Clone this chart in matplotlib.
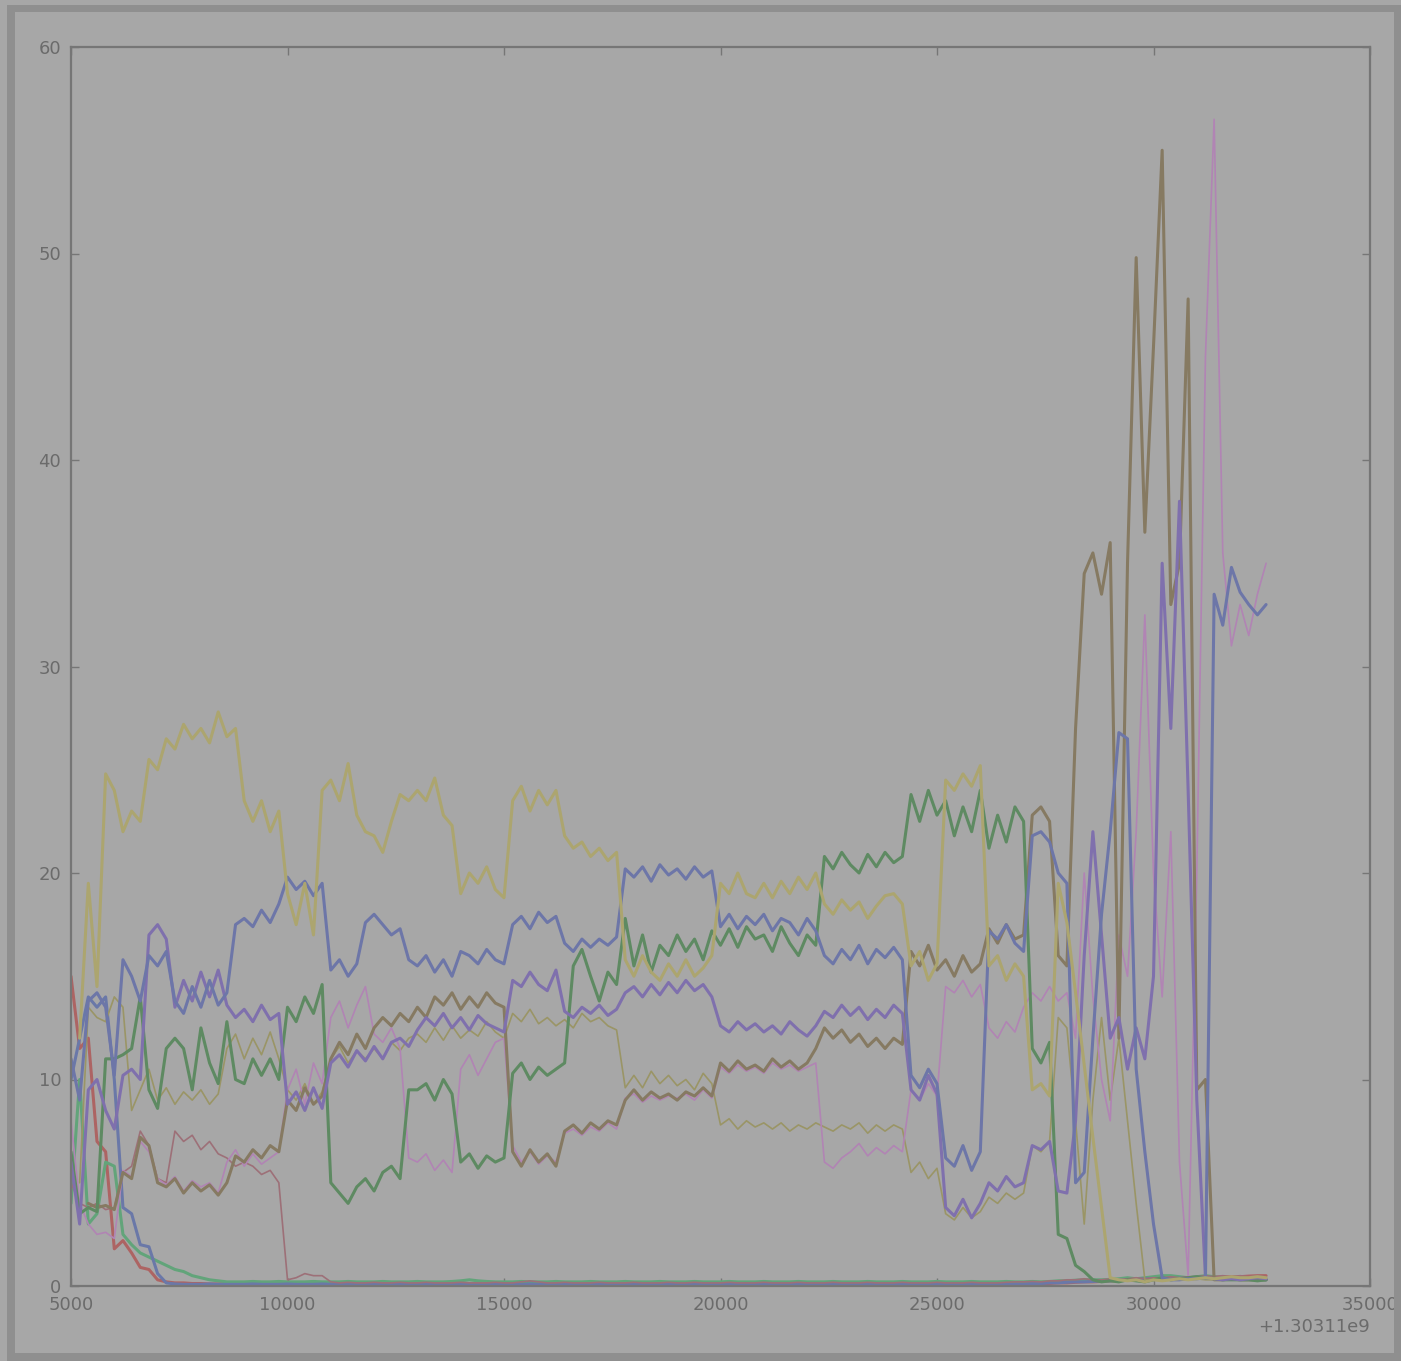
import numpy as np
import matplotlib
matplotlib.use('Agg')
import matplotlib.pyplot as plt
from matplotlib.ticker import ScalarFormatter, FixedLocator
from matplotlib.patches import Rectangle

nan = np.nan

# time axis: offset + seconds, samples every 200 s starting at 5000
T_OFFSET = 1.30311e9
T_START = 5000
T_STEP = 200

x_ticks = [5000, 10000, 15000, 20000, 25000, 30000, 35000]
y_ticks = [0, 10, 20, 30, 40, 50, 60]

yellow = [
    nan, 12.0, 19.5, 14.5, 24.8, 24.0, 22.0, 23.0, 22.5, 25.5,
    25.0, 26.5, 26.0, 27.2, 26.5, 27.0, 26.3, 27.8, 26.6, 27.0,
    23.5, 22.5, 23.5, 22.0, 23.0, 19.0, 17.5, 19.5, 17.0, 24.0,
    24.5, 23.5, 25.3, 22.8, 22.0, 21.8, 21.0, 22.5, 23.8, 23.5,
    24.0, 23.5, 24.6, 22.8, 22.3, 19.0, 20.0, 19.5, 20.3, 19.2,
    18.8, 23.5, 24.2, 23.0, 24.0, 23.3, 24.0, 21.8, 21.2, 21.5,
    20.8, 21.2, 20.6, 21.0, 15.8, 15.0, 16.0, 15.2, 14.8, 15.6,
    15.0, 15.8, 15.0, 15.4, 16.0, 19.5, 19.0, 20.0, 19.0, 18.8,
    19.5, 18.8, 19.6, 19.0, 19.8, 19.2, 20.0, 18.5, 18.0, 18.7,
    18.2, 18.6, 17.8, 18.4, 18.9, 19.0, 18.5, 15.5, 16.2, 14.8,
    15.6, 24.5, 24.0, 24.8, 24.2, 25.2, 15.5, 16.0, 14.8, 15.6,
    15.0, 9.5, 9.8, 9.2, 19.5, 17.6, 14.2, 10.7, 7.2, 3.8,
    0.4, 0.3, 0.25, 0.3, 0.2, 0.3, 0.25, 0.3, 0.35, 0.3,
    0.35, 0.4, 0.35, 0.4, 0.45, 0.4, 0.4, 0.45, 0.4,
]

blue = [
    11.0, 9.0, 13.8, 14.2, 13.5, 10.2, 15.8, 15.0, 13.8, 16.0,
    15.5, 16.2, 13.8, 13.2, 14.5, 13.5, 14.8, 13.6, 14.2, 17.5,
    17.8, 17.4, 18.2, 17.6, 18.5, 19.8, 19.2, 19.6, 18.9, 19.5,
    15.3, 15.8, 15.0, 15.6, 17.6, 18.0, 17.5, 17.0, 17.3, 15.8,
    15.5, 16.0, 15.2, 15.8, 15.0, 16.2, 16.0, 15.6, 16.3, 15.8,
    15.6, 17.5, 17.9, 17.3, 18.1, 17.6, 17.9, 16.6, 16.2, 16.8,
    16.4, 16.8, 16.5, 16.9, 20.2, 19.8, 20.3, 19.6, 20.4, 19.9,
    20.2, 19.7, 20.3, 19.8, 20.1, 17.4, 18.0, 17.3, 17.9, 17.5,
    18.0, 17.2, 17.8, 17.6, 17.0, 17.8, 17.2, 16.0, 15.6, 16.3,
    15.8, 16.5, 15.6, 16.3, 15.9, 16.4, 15.8, 10.2, 9.6, 10.5,
    9.8, 6.2, 5.8, 6.8, 5.6, 6.5, 17.2, 16.8, 17.5, 16.6,
    16.2, 21.8, 22.0, 21.5, 20.0, 19.5, 5.0, 5.5, 12.0, 18.0,
    22.0, 26.8, 26.5, 10.5, 6.5, 3.0, 0.4, 0.3, 0.3, 0.35,
    0.35, 0.4, 33.5, 32.0, 34.8, 33.6, 33.0, 32.5, 33.0,
]

purple = [
    6.0, 3.0, 9.5, 10.0, 8.5, 7.6, 10.2, 10.5, 10.0, 17.0,
    17.5, 16.8, 13.5, 14.8, 13.8, 15.2, 14.0, 15.3, 13.6, 13.0,
    13.4, 12.8, 13.6, 12.9, 13.2, 8.8, 9.4, 8.5, 9.6, 8.6,
    10.8, 11.2, 10.6, 11.4, 10.9, 11.6, 11.0, 11.8, 12.0, 11.6,
    12.4, 13.0, 12.6, 13.2, 12.5, 13.0, 12.4, 13.1, 12.7, 12.5,
    12.3, 14.8, 14.5, 15.2, 14.6, 14.3, 15.3, 13.3, 13.0, 13.5,
    13.2, 13.6, 13.1, 13.4, 14.2, 14.5, 14.0, 14.6, 14.1, 14.7,
    14.2, 14.8, 14.3, 14.6, 14.0, 12.6, 12.3, 12.8, 12.4, 12.7,
    12.3, 12.6, 12.2, 12.8, 12.4, 12.1, 12.6, 13.3, 13.0, 13.6,
    13.1, 13.5, 12.9, 13.4, 13.0, 13.6, 13.2, 9.5, 9.0, 10.2,
    9.3, 3.8, 3.4, 4.2, 3.3, 4.0, 5.0, 4.6, 5.3, 4.8,
    5.0, 6.8, 6.6, 7.0, 4.6, 4.5, 8.0, 16.0, 22.0, 17.0,
    12.0, 13.0, 10.5, 12.5, 11.0, 15.0, 35.0, 27.0, 38.0, 24.0,
    9.0, 0.4, 0.35, 0.3, 0.35, 0.3, 0.35, 0.4, 0.35,
]

green = [
    6.5, 3.5, 3.8, 3.6, 11.0, 11.0, 11.2, 11.5, 14.0, 9.5,
    8.6, 11.5, 12.0, 11.5, 9.5, 12.5, 10.8, 9.8, 12.8, 10.0,
    9.8, 11.0, 10.2, 11.0, 10.0, 13.5, 12.8, 14.0, 13.2, 14.6,
    5.0, 4.5, 4.0, 4.8, 5.2, 4.6, 5.5, 5.8, 5.2, 9.5,
    9.5, 9.8, 9.0, 10.0, 9.3, 6.0, 6.4, 5.7, 6.3, 6.0,
    6.2, 10.3, 10.8, 10.0, 10.6, 10.2, 10.5, 10.8, 15.5, 16.3,
    15.0, 13.8, 15.2, 14.6, 17.8, 15.5, 17.0, 15.2, 16.5, 16.0,
    17.0, 16.2, 16.8, 15.8, 17.2, 16.5, 17.3, 16.4, 17.4, 16.8,
    17.0, 16.2, 17.4, 16.6, 16.0, 17.0, 16.5, 20.8, 20.2, 21.0,
    20.4, 20.0, 20.9, 20.3, 21.0, 20.5, 20.8, 23.8, 22.5, 24.0,
    22.8, 23.5, 21.8, 23.2, 22.0, 24.0, 21.2, 22.8, 21.5, 23.2,
    22.5, 11.5, 10.8, 11.8, 2.5, 2.3, 1.0, 0.7, 0.3, 0.2,
    0.25, 0.2, 0.3, 0.25, 0.2, 0.3, 0.4, 0.3, 0.35, 0.4,
    0.45, 0.4, 0.35, 0.3, 0.3, 0.3, 0.3, 0.25, 0.3,
]

brown = [
    nan, nan, 4.0, 3.8, 3.9, 3.7, 5.5, 5.2, 7.2, 6.8,
    5.0, 4.8, 5.2, 4.5, 5.0, 4.6, 4.9, 4.4, 5.0, 6.3,
    6.0, 6.6, 6.2, 6.8, 6.5, 9.0, 8.5, 9.6, 8.8, 9.2,
    11.0, 11.8, 11.2, 12.2, 11.5, 12.5, 13.0, 12.6, 13.2, 12.8,
    13.5, 13.0, 14.0, 13.6, 14.2, 13.4, 14.0, 13.5, 14.2, 13.7,
    13.5, 6.5, 5.8, 6.6, 6.0, 6.4, 5.8, 7.5, 7.8, 7.4,
    7.9, 7.6, 8.0, 7.8, 9.0, 9.5, 9.0, 9.4, 9.1, 9.3,
    9.0, 9.4, 9.2, 9.6, 9.2, 10.8, 10.4, 10.9, 10.5, 10.7,
    10.4, 11.0, 10.6, 10.9, 10.5, 10.8, 11.5, 12.5, 12.0, 12.4,
    11.8, 12.2, 11.6, 12.0, 11.5, 12.0, 11.7, 16.2, 15.5, 16.5,
    15.3, 15.8, 15.0, 16.0, 15.2, 15.6, 17.3, 16.6, 17.5, 16.8,
    17.0, 22.8, 23.2, 22.5, 16.0, 15.5, 27.0, 34.5, 35.5, 33.5,
    36.0, 12.0, 35.0, 49.8, 36.5, 45.5, 55.0, 33.0, 35.0, 47.8,
    9.5, 10.0, 0.3, 0.3, 0.35, 0.3, 0.3, 0.3, 0.3,
]

pink = [
    8.0, 4.0, 3.0, 2.5, 2.6, 2.3, 5.6, 5.3, 7.0, 6.5,
    5.2, 4.9, 5.3, 4.6, 5.1, 4.8, 5.0, 4.5, 6.0, 6.6,
    5.8, 6.4, 5.9, 6.2, 6.5, 9.5, 10.5, 8.8, 10.8, 9.8,
    13.0, 13.8, 12.5, 13.6, 14.5, 12.2, 11.8, 12.5, 11.5, 6.2,
    6.0, 6.4, 5.6, 6.1, 5.5, 10.5, 11.2, 10.2, 11.0, 11.8,
    12.0, 6.8, 6.0, 6.5, 5.9, 6.3, 6.0, 7.4, 7.6, 7.3,
    7.7, 7.5, 7.9, 7.6, 9.1, 9.3, 8.9, 9.2, 9.0, 9.2,
    9.1, 9.3, 9.0, 9.5, 9.1, 10.6, 10.3, 10.7, 10.4, 10.6,
    10.3, 10.8, 10.5, 10.7, 10.4, 10.6, 10.8, 6.0, 5.7, 6.2,
    6.5, 6.9, 6.3, 6.7, 6.4, 6.8, 6.5, 9.5, 9.0, 9.8,
    9.2, 14.5, 14.2, 14.8, 14.0, 14.6, 12.5, 12.0, 12.8, 12.3,
    13.5, 14.2, 13.8, 14.5, 13.8, 14.2, 12.0, 20.0, 14.0, 10.0,
    8.0, 17.0, 15.0, 22.0, 32.5, 20.0, 14.0, 22.0, 6.0, 0.5,
    20.0, 45.0, 56.5, 35.5, 31.0, 33.0, 31.5, 33.5, 35.0,
]

olive = [
    nan, 5.0, 13.5, 13.0, 12.8, 14.0, 13.5, 8.5, 9.5, 10.5,
    9.0, 9.6, 8.8, 9.4, 9.0, 9.5, 8.8, 9.3, 11.5, 12.2,
    11.0, 12.0, 11.2, 12.3, 11.0, 9.5, 9.0, 9.8, 8.8, 9.4,
    11.0, 11.6, 10.8, 11.4, 11.0, 11.5, 11.0, 11.8, 11.4, 12.0,
    12.2, 11.8, 12.5, 11.9, 12.6, 12.0, 12.4, 12.1, 12.8, 12.3,
    12.0, 13.2, 12.8, 13.4, 12.7, 13.0, 12.6, 12.9, 12.5, 13.2,
    12.8, 13.0, 12.6, 12.4, 9.6, 10.2, 9.6, 10.4, 9.8, 10.2,
    9.7, 10.0, 9.5, 10.3, 9.8, 7.8, 8.1, 7.6, 8.0, 7.7,
    7.9, 7.6, 7.9, 7.5, 7.8, 7.6, 7.9, 7.7, 7.5, 7.8,
    7.6, 7.9, 7.4, 7.8, 7.5, 7.8, 7.6, 5.5, 6.0, 5.2,
    5.7, 3.5, 3.2, 3.8, 3.3, 3.6, 4.3, 4.0, 4.5, 4.2,
    4.5, 6.8, 6.5, 7.0, 13.0, 12.5, 8.0, 3.0, 9.0, 13.0,
    9.0, 12.0, 8.0, 4.0, 0.3, 0.3, 0.3, 0.35, 0.3, 0.3,
    0.35, 0.3, 0.3, 0.35, 0.3, 0.3, 0.3, 0.3, 0.3,
]

mauve = [
    5.0, 4.0, 3.8, 4.0, 3.7, 3.8, 5.5, 5.8, 7.5, 6.8,
    5.2, 5.0, 7.5, 7.0, 7.3, 6.6, 7.0, 6.4, 6.2, 5.8,
    6.0, 5.8, 5.4, 5.6, 5.0, 0.3, 0.4, 0.6, 0.5, 0.5,
    0.2, 0.15, 0.18, 0.15, 0.15, 0.18, 0.15, 0.15, 0.18, 0.15,
    0.15, 0.18, 0.15, 0.15, 0.15, 0.18, 0.15, 0.15, 0.15, 0.18,
    0.15, 0.15, 0.2, 0.25, 0.2, 0.15, 0.15, 0.18, 0.15, 0.15,
    0.15, 0.18, 0.15, 0.15, 0.15, 0.18, 0.15, 0.15, 0.15, 0.18,
    0.15, 0.15, 0.18, 0.15, 0.15, 0.15, 0.18, 0.15, 0.15, 0.15,
    0.18, 0.15, 0.15, 0.15, 0.18, 0.15, 0.15, 0.15, 0.18, 0.15,
    0.15, 0.15, 0.18, 0.15, 0.15, 0.15, 0.18, 0.15, 0.15, 0.15,
    0.18, 0.15, 0.15, 0.15, 0.18, 0.15, 0.15, 0.15, 0.18, 0.2,
    0.2, 0.22, 0.2, 0.25, 0.25, 0.3, 0.3, 0.35, 0.3, 0.3,
    0.35, 0.3, 0.35, 0.4, 0.35, 0.4, 0.4, 0.45, 0.4, 0.45,
    0.45, 0.5, 0.45, 0.5, 0.45, 0.5, 0.45, 0.5, 0.45,
]

red = [
    15.0, 11.5, 12.0, 7.0, 6.5, 1.8, 2.2, 1.6, 0.9, 0.8,
    0.3, 0.2, 0.15, 0.15, 0.12, 0.12, 0.1, 0.1, 0.12, 0.1,
    0.1, 0.12, 0.1, 0.1, 0.12, 0.1, 0.1, 0.1, 0.12, 0.1,
    0.1, 0.1, 0.12, 0.1, 0.1, 0.1, 0.12, 0.1, 0.1, 0.1,
    0.12, 0.1, 0.1, 0.1, 0.12, 0.1, 0.1, 0.1, 0.12, 0.1,
    0.1, 0.1, 0.12, 0.1, 0.1, 0.1, 0.12, 0.1, 0.1, 0.1,
    0.12, 0.1, 0.1, 0.1, 0.12, 0.1, 0.1, 0.1, 0.12, 0.1,
    0.1, 0.1, 0.12, 0.1, 0.1, 0.1, 0.12, 0.1, 0.1, 0.1,
    0.12, 0.1, 0.1, 0.1, 0.12, 0.1, 0.1, 0.1, 0.12, 0.1,
    0.1, 0.1, 0.12, 0.1, 0.1, 0.1, 0.12, 0.1, 0.1, 0.1,
    0.12, 0.1, 0.1, 0.1, 0.12, 0.1, 0.1, 0.1, 0.12, 0.1,
    0.1, 0.12, 0.1, 0.12, 0.15, 0.15, 0.18, 0.2, 0.2, 0.22,
    0.25, 0.25, 0.28, 0.3, 0.3, 0.32, 0.35, 0.35, 0.38, 0.4,
    0.4, 0.42, 0.42, 0.45, 0.45, 0.45, 0.48, 0.5, 0.5,
]

light_green = [
    4.0, 10.0, 3.0, 3.5, 6.0, 5.8, 2.5, 2.0, 1.6, 1.4,
    1.2, 1.0, 0.8, 0.7, 0.5, 0.4, 0.3, 0.25, 0.2, 0.2,
    0.2, 0.22, 0.2, 0.2, 0.22, 0.2, 0.2, 0.2, 0.22, 0.2,
    0.2, 0.2, 0.22, 0.2, 0.2, 0.2, 0.22, 0.2, 0.2, 0.2,
    0.22, 0.2, 0.2, 0.2, 0.22, 0.25, 0.3, 0.25, 0.22, 0.2,
    0.2, 0.2, 0.22, 0.2, 0.2, 0.2, 0.22, 0.2, 0.2, 0.2,
    0.22, 0.2, 0.2, 0.2, 0.22, 0.2, 0.2, 0.2, 0.22, 0.2,
    0.2, 0.2, 0.22, 0.2, 0.2, 0.2, 0.22, 0.2, 0.2, 0.2,
    0.22, 0.2, 0.2, 0.2, 0.22, 0.2, 0.2, 0.2, 0.22, 0.2,
    0.2, 0.2, 0.22, 0.2, 0.2, 0.2, 0.22, 0.2, 0.2, 0.2,
    0.22, 0.2, 0.2, 0.2, 0.22, 0.2, 0.2, 0.2, 0.22, 0.2,
    0.2, 0.22, 0.2, 0.22, 0.25, 0.25, 0.28, 0.3, 0.3, 0.3,
    0.32, 0.35, 0.4, 0.35, 0.4, 0.45, 0.5, 0.5, 0.45, 0.4,
    0.45, 0.5, 0.45, 0.4, 0.4, 0.35, 0.35, 0.3, 0.3,
]

blue2 = [
    10.0, 12.0, 14.0, 13.5, 14.0, 10.0, 3.8, 3.5, 2.0, 1.9,
    0.6, 0.15, 0.1, 0.08, 0.08, 0.08, 0.1, 0.08, 0.08, 0.08,
    0.08, 0.1, 0.08, 0.08, 0.08, 0.1, 0.08, 0.08, 0.08, 0.1,
    0.08, 0.08, 0.08, 0.1, 0.08, 0.08, 0.08, 0.1, 0.08, 0.08,
    0.08, 0.1, 0.08, 0.08, 0.08, 0.1, 0.08, 0.08, 0.08, 0.1,
    0.08, 0.08, 0.08, 0.1, 0.08, 0.08, 0.08, 0.1, 0.08, 0.08,
    0.08, 0.1, 0.08, 0.08, 0.08, 0.1, 0.08, 0.08, 0.08, 0.1,
    0.08, 0.08, 0.08, 0.1, 0.08, 0.08, 0.08, 0.1, 0.08, 0.08,
    0.08, 0.1, 0.08, 0.08, 0.08, 0.1, 0.08, 0.08, 0.08, 0.1,
    0.08, 0.08, 0.08, 0.1, 0.08, 0.08, 0.08, 0.1, 0.08, 0.08,
    0.08, 0.1, 0.08, 0.08, 0.08, 0.1, 0.08, 0.08, 0.08, 0.1,
    0.1, 0.12, 0.12, 0.15, 0.15, 0.18, 0.2, 0.2, 0.22, 0.25,
    0.25, 0.3, 0.3, 0.32, 0.35, 0.35, 0.3, 0.35, 0.38, 0.4,
    0.42, 0.45, 0.4, 0.42, 0.4, 0.38, 0.35, 0.35, 0.3,
]

# (values, colour, line width) in drawing order
SERIES = [
    (red, '#ad6463', 2.2),
    (light_green, '#62a47a', 2.2),
    (blue2, '#6a78a8', 2.2),
    (mauve, '#9d7078', 1.2),
    (olive, '#9a9566', 1.2),
    (pink, '#b184b4', 1.2),
    (brown, '#867a62', 2.2),
    (green, '#5e8a62', 2.2),
    (purple, '#7f70ad', 2.2),
    (blue, '#6d76a8', 2.2),
    (yellow, '#aca56f', 2.2),
]

BG = '#a7a7a7'
TXT = '#6b6b6b'
SPINE = '#767676'

W, H = 1401, 1361
fig = plt.figure(figsize=(W / 100, H / 100), dpi=100, facecolor=BG)
ax = fig.add_axes([71 / W, 1 - 1286 / H, (1370 - 71) / W, (1286 - 47) / H])
ax.set_facecolor(BG)

for vals, color, lw in SERIES:
    v = np.array(vals, dtype=float)
    t = T_OFFSET + T_START + T_STEP * np.arange(len(v))
    ax.plot(t, v, color=color, lw=lw, solid_joinstyle='round', solid_capstyle='round')

ax.set_xlim(T_OFFSET + 5000, T_OFFSET + 35000)
ax.set_ylim(0, 60)
ax.xaxis.set_major_locator(FixedLocator([T_OFFSET + v for v in x_ticks]))
ax.yaxis.set_major_locator(FixedLocator(y_ticks))
fmt = ScalarFormatter(useOffset=T_OFFSET)
ax.xaxis.set_major_formatter(fmt)

ax.tick_params(direction='in', top=True, right=True, length=6, width=1,
               color=SPINE, labelcolor=TXT, labelsize=13, pad=7)
ax.xaxis.get_offset_text().set_fontsize(13)
ax.xaxis.get_offset_text().set_color(TXT)
for s in ax.spines.values():
    s.set_color(SPINE)
    s.set_linewidth(1.6)

# dark frame round the picture
FR = '#8f8f8f'
fig.add_artist(Rectangle((7 / W, 0), 8 / W, 1 - 5 / H, transform=fig.transFigure, color=FR, lw=0))
fig.add_artist(Rectangle((7 / W, 1 - 12 / H), 1 - 7 / W, 7 / H, transform=fig.transFigure, color=FR, lw=0))
fig.add_artist(Rectangle((1 - 7 / W, 0), 7 / W, 1 - 5 / H, transform=fig.transFigure, color=FR, lw=0))
fig.add_artist(Rectangle((7 / W, 0), 1 - 7 / W, 8 / H, transform=fig.transFigure, color=FR, lw=0))

fig.savefig('out.png', dpi=100, facecolor=BG)
